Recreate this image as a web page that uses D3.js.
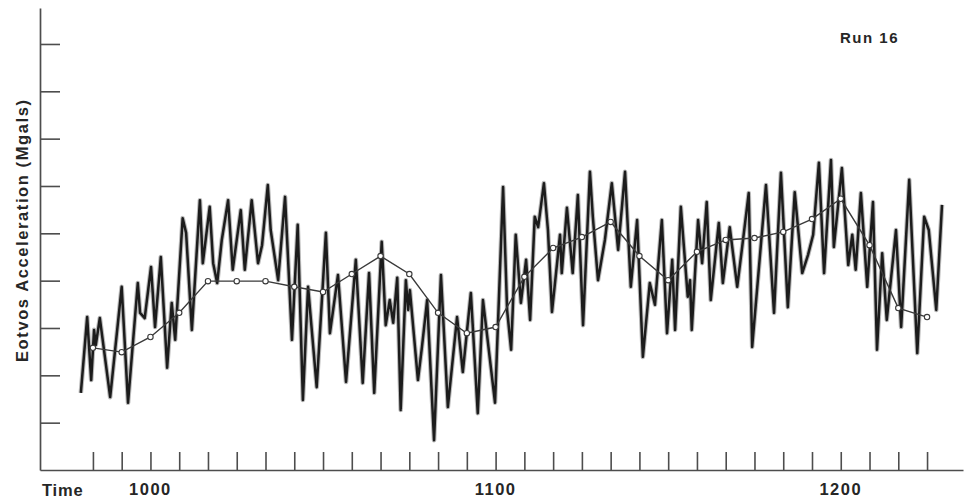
<!DOCTYPE html>
<html>
<head>
<meta charset="utf-8">
<script src="https://cdn.jsdelivr.net/npm/d3@7"></script>
<style>
  html, body { margin: 0; padding: 0; background: #ffffff; }
  svg { display: block; }
  text { font-family: "Liberation Sans", Arial, sans-serif; font-weight: bold; fill: #262626; }
</style>
</head>
<body>
<script>
// Time in minutes since midnight (clock HHMM 1000 = 600 min)
const traceTime = [
  587.9,589.0,589.7,590.2,590.5,591.2,593.0,595.0,596.1,597.8,598.2,599.0,600.1,600.8,601.8,602.9,603.7,604.3,605.6,606.2,607.2,608.6,609.1,610.3,610.9,611.6,612.4,
  613.5,614.3,615.7,616.4,617.6,618.7,619.4,620.4,620.9,622.2,623.4,624.6,625.6,626.5,627.4,628.9,630.5,631.2,632.6,634.0,635.7,636.9,638.0,
  638.9,640.2,640.9,641.6,642.2,642.9,643.5,644.4,644.8,645.1,646.5,647.2,648.1,649.3,650.5,651.7,653.3,654.3,655.7,656.9,657.8,659.9,661.3,662.0,662.7,
  663.5,664.4,665.3,666.0,666.8,667.4,668.4,669.1,669.8,671.2,671.5,672.4,673.4,674.3,675.2,676.4,676.9,677.8,679.0,680.2,681.3,682.5,683.5,684.6,685.6,686.8,687.7,
  688.9,689.8,690.7,691.2,692.2,693.4,693.8,694.1,695.2,695.9,696.7,697.4,698.8,699.5,700.7,702.0,702.8,704.0,704.6,707.0,708.4,709.6,710.8,712.0,713.3,
  714.3,715.2,716.2,717.1,718.3,718.8,720.2,721.3,722.0,722.6,723.5,724.6,725.6,726.3,727.2,728.0,729.6,730.5,731.9,733.3,734.5,735.3,736.6,737.6
];
// Eotvos acceleration (mgal, relative)
const traceValue = [
  16.3,32.3,19.0,29.6,26.4,32.1,15.4,38.7,14.2,39.5,33.2,32.1,42.9,30.2,45.0,21.6,35.3,27.5,53.2,50.1,29.6,57.0,43.7,55.6,43.7,39.5,48.6,
  57.0,42.3,54.9,42.3,57.0,43.7,47.5,60.2,50.7,40.1,57.7,27.5,51.8,14.8,38.7,17.5,50.1,28.9,41.2,18.6,44.4,18.4,41.6,
  16.3,48.2,30.6,35.9,31.1,40.6,12.7,40.1,33.8,38.0,19.0,26.0,35.9,6.3,41.2,13.3,32.3,20.7,37.4,12.0,35.9,14.2,59.8,33.8,25.4,
  49.7,35.3,44.4,31.7,53.5,51.3,60.6,50.7,33.4,49.7,41.6,55.4,41.6,58.1,30.6,63.0,53.5,40.1,48.6,60.6,46.5,63.0,38.7,52.8,23.9,39.5,34.9,
  52.8,28.9,44.4,29.6,55.6,36.6,40.1,29.6,52.8,43.7,56.6,35.9,52.2,39.5,51.3,38.7,46.5,58.5,26.0,60.2,33.2,62.8,34.4,58.7,41.6,
  45.4,49.7,64.9,41.6,65.5,47.1,63.8,43.3,49.7,42.3,58.5,38.7,56.6,25.4,45.8,31.7,50.7,30.2,61.3,24.7,53.5,50.7,33.8,56.0
];
// Smoothed (5-minute) values
const smoothTime = [590,595,600,605,610,615,620,625,630,635,640,645,650,655,660,665,670,675,680,685,690,695,700,705,710,715,720,725,730,735];
const smoothValue = [25.8,24.9,28.1,33.2,39.9,39.9,39.9,38.7,37.6,41.4,45.2,41.4,33.2,28.9,30.2,40.8,46.9,49.2,52.4,45.2,40.1,46.1,48.6,49.0,50.3,53.0,57.3,47.5,34.2,32.3];
// Axis ticks
const xTickTimes = [590,595,600,605,610,615,620,625,630,635,640,645,650,655,660,665,670,675,680,685,690,695,700,705,710,715,720,725,730,735];
const xLabelTimes = [600,660,720];
const xLabelText = ["1000","1100","1200"];
const yTickValues = [10,20,30,40,50,60,70,80,90];
const yTitle = "Eotvos  Acceleration  (Mgals)";
const xTitle = "Time";
const runTitle = "Run 16";

const W = 968, H = 499;
const svg = d3.select("body").append("svg").attr("width", W).attr("height", H);
svg.append("rect").attr("width", W).attr("height", H).attr("fill", "#ffffff");

const x = d3.scaleLinear().domain([580.8, 741.25]).range([40, 963]);
const y = d3.scaleLinear().domain([0, 97.6]).range([470, 8]);

const axisColor = "#4d4d4d";

// Y axis (ticks pointing into plot)
const gy = svg.append("g").attr("transform", "translate(40,0)")
  .call(d3.axisRight(y).tickValues(yTickValues).tickSize(20).tickSizeOuter(0).tickFormat(""));
gy.select(".domain").attr("stroke", axisColor).attr("stroke-width", 1.7);
gy.selectAll(".tick line").attr("stroke", axisColor).attr("stroke-width", 1.6);

// X axis (ticks pointing up)
const gx = svg.append("g").attr("transform", "translate(0,470)")
  .call(d3.axisTop(x).tickValues(xTickTimes).tickSize(18).tickSizeOuter(0).tickFormat(""));
gx.select(".domain").attr("stroke", axisColor).attr("stroke-width", 1.7);
gx.selectAll(".tick line").attr("stroke", axisColor).attr("stroke-width", 1.6);

// X labels
svg.selectAll("text.xl").data(xLabelTimes).enter().append("text")
  .attr("class", "xl")
  .attr("x", d => x(d)).attr("y", 495)
  .attr("text-anchor", "middle")
  .style("font-size", "16.5px").style("letter-spacing", "1.5px")
  .text((d, i) => xLabelText[i]);

svg.append("text").attr("x", 42).attr("y", 496)
  .style("font-size", "16.5px").style("letter-spacing", "0.8px")
  .text(xTitle);

svg.append("text")
  .attr("transform", "translate(28,231) rotate(-90)")
  .attr("text-anchor", "middle")
  .attr("textLength", 262).attr("lengthAdjust", "spacing")
  .style("font-size", "16.5px")
  .text(yTitle);

svg.append("text").attr("x", 840).attr("y", 43)
  .style("font-size", "15px").style("letter-spacing", "1.5px")
  .text(runTitle);

// Raw trace
const trace = traceTime.map((t, i) => [t, traceValue[i]]);
const line = d3.line().x(d => x(d[0])).y(d => y(d[1]));
svg.append("path").datum(trace).attr("d", line)
  .attr("fill", "none").attr("stroke", "#666").attr("stroke-opacity", 0.45)
  .attr("stroke-width", 4.6).attr("stroke-linejoin", "round");
svg.append("path").datum(trace).attr("d", line)
  .attr("fill", "none").attr("stroke", "#1c1c1c")
  .attr("stroke-width", 2.5).attr("stroke-linejoin", "round");

// Smoothed line with open circles
const smooth = smoothTime.map((t, i) => [t, smoothValue[i]]);
svg.append("path").datum(smooth).attr("d", line)
  .attr("fill", "none").attr("stroke", "#3a3a3a").attr("stroke-width", 1.4);
svg.selectAll("circle.s").data(smooth).enter().append("circle")
  .attr("class", "s")
  .attr("cx", d => x(d[0])).attr("cy", d => y(d[1])).attr("r", 2.7)
  .attr("fill", "#ffffff").attr("stroke", "#3a3a3a").attr("stroke-width", 1.1);
</script>
</body>
</html>
